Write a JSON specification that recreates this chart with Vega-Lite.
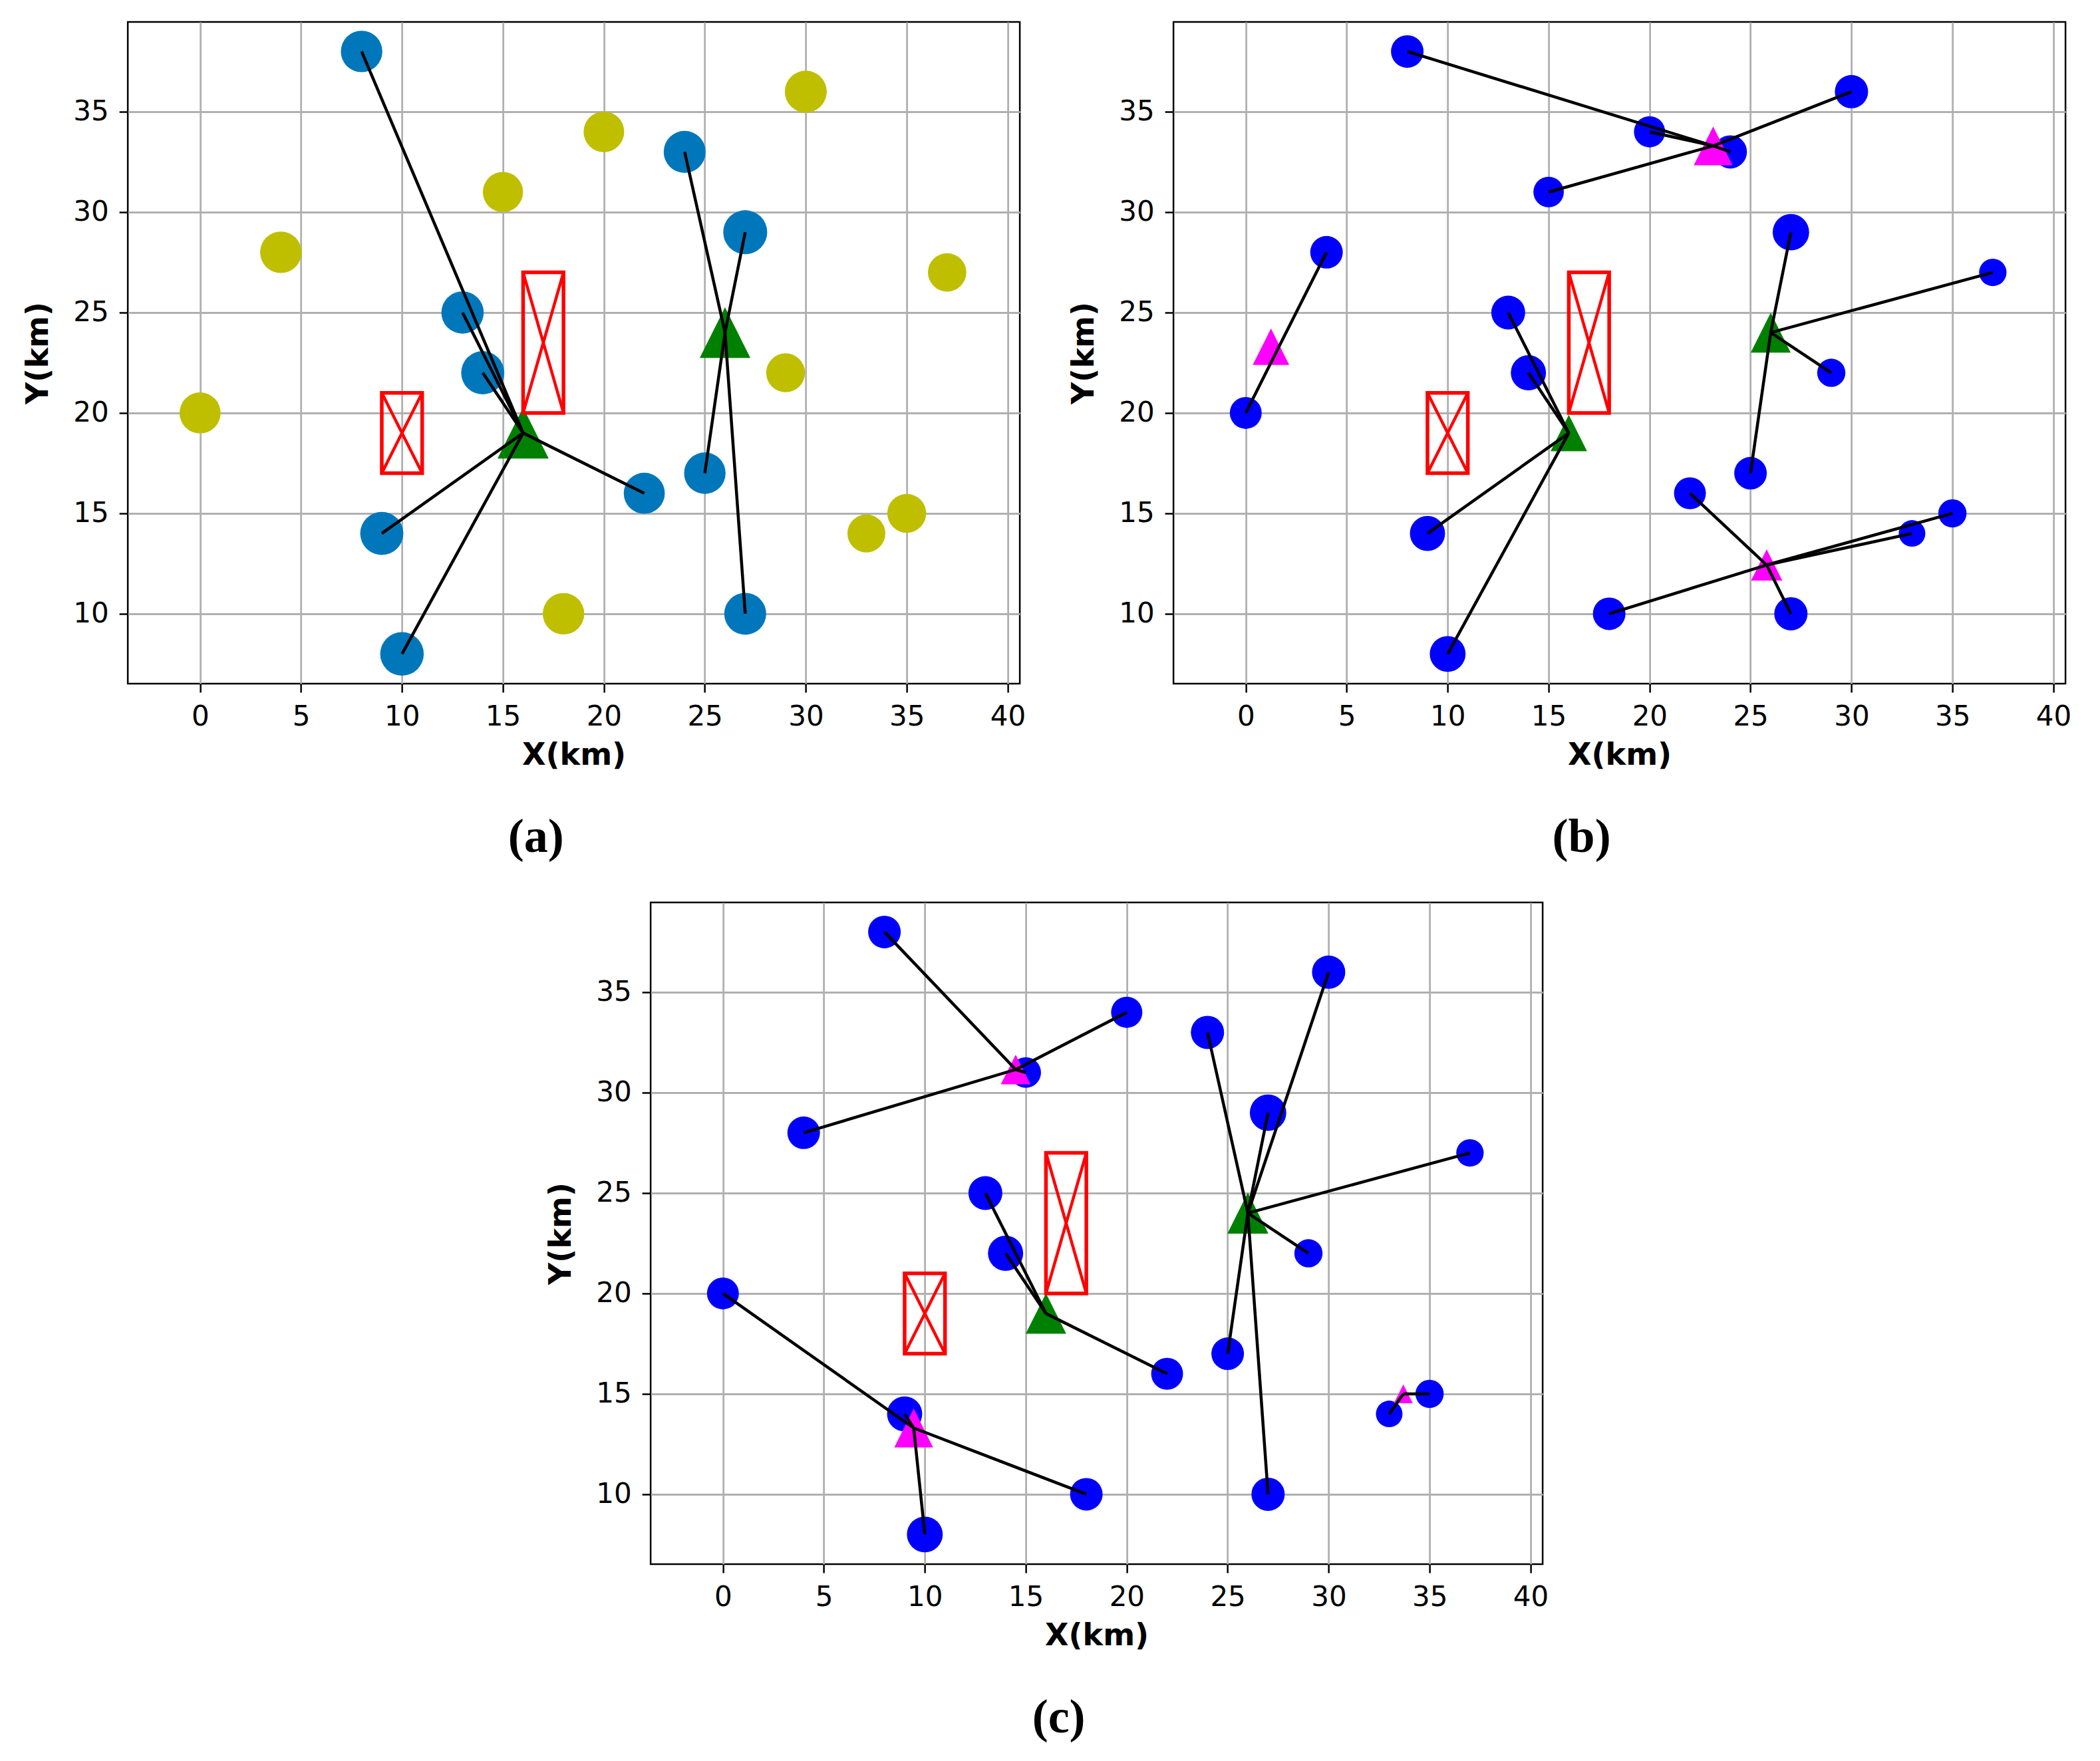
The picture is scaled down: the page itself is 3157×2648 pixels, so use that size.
{
  "$schema": "https://vega.github.io/schema/vega-lite/v6.json",
  "background": "white",
  "padding": {"top": 31, "left": 33, "right": 5, "bottom": 5},
  "datasets": {
    "customers": [
      {"x": 8, "y": 38, "demand": 24, "served": "yes"},
      {"x": 20, "y": 34, "demand": 22, "served": "no"},
      {"x": 24, "y": 33, "demand": 25, "served": "yes"},
      {"x": 30, "y": 36, "demand": 25, "served": "no"},
      {"x": 15, "y": 31, "demand": 21, "served": "no"},
      {"x": 4, "y": 28, "demand": 24, "served": "no"},
      {"x": 27, "y": 29, "demand": 30, "served": "yes"},
      {"x": 37, "y": 27, "demand": 17, "served": "no"},
      {"x": 13, "y": 25, "demand": 26, "served": "yes"},
      {"x": 14, "y": 22, "demand": 28, "served": "yes"},
      {"x": 29, "y": 22, "demand": 18, "served": "no"},
      {"x": 0, "y": 20, "demand": 23, "served": "no"},
      {"x": 25, "y": 17, "demand": 24, "served": "yes"},
      {"x": 22, "y": 16, "demand": 23, "served": "yes"},
      {"x": 9, "y": 14, "demand": 28, "served": "yes"},
      {"x": 35, "y": 15, "demand": 18, "served": "no"},
      {"x": 33, "y": 14, "demand": 16, "served": "no"},
      {"x": 18, "y": 10, "demand": 24, "served": "no"},
      {"x": 27, "y": 10, "demand": 25, "served": "yes"},
      {"x": 10, "y": 8, "demand": 29, "served": "yes"}
    ],
    "facilities": [
      {"panel": "a", "x": 16, "y": 19, "type": "existing", "cap": 59},
      {"panel": "a", "x": 26, "y": 24, "type": "existing", "cap": 58},
      {"panel": "b", "x": 16, "y": 19, "type": "existing", "cap": 30},
      {"panel": "b", "x": 26, "y": 24, "type": "existing", "cap": 36},
      {"panel": "b", "x": 23.15, "y": 33.3, "type": "new", "cap": 34},
      {"panel": "b", "x": 1.25, "y": 23.3, "type": "new", "cap": 30},
      {"panel": "b", "x": 25.8, "y": 12.43, "type": "new", "cap": 22},
      {"panel": "c", "x": 16, "y": 19, "type": "existing", "cap": 37},
      {"panel": "c", "x": 26, "y": 24, "type": "existing", "cap": 38},
      {"panel": "c", "x": 14.5, "y": 31.15, "type": "new", "cap": 20},
      {"panel": "c", "x": 9.45, "y": 13.3, "type": "new", "cap": 34},
      {"panel": "c", "x": 33.7, "y": 15, "type": "new", "cap": 8}
    ],
    "links": [
      {"panel": "a", "fx": 16, "fy": 19, "cx": 8, "cy": 38},
      {"panel": "a", "fx": 16, "fy": 19, "cx": 13, "cy": 25},
      {"panel": "a", "fx": 16, "fy": 19, "cx": 14, "cy": 22},
      {"panel": "a", "fx": 16, "fy": 19, "cx": 22, "cy": 16},
      {"panel": "a", "fx": 16, "fy": 19, "cx": 9, "cy": 14},
      {"panel": "a", "fx": 16, "fy": 19, "cx": 10, "cy": 8},
      {"panel": "a", "fx": 26, "fy": 24, "cx": 24, "cy": 33},
      {"panel": "a", "fx": 26, "fy": 24, "cx": 27, "cy": 29},
      {"panel": "a", "fx": 26, "fy": 24, "cx": 25, "cy": 17},
      {"panel": "a", "fx": 26, "fy": 24, "cx": 27, "cy": 10},
      {"panel": "b", "fx": 16, "fy": 19, "cx": 13, "cy": 25},
      {"panel": "b", "fx": 16, "fy": 19, "cx": 14, "cy": 22},
      {"panel": "b", "fx": 16, "fy": 19, "cx": 9, "cy": 14},
      {"panel": "b", "fx": 16, "fy": 19, "cx": 10, "cy": 8},
      {"panel": "b", "fx": 26, "fy": 24, "cx": 27, "cy": 29},
      {"panel": "b", "fx": 26, "fy": 24, "cx": 37, "cy": 27},
      {"panel": "b", "fx": 26, "fy": 24, "cx": 29, "cy": 22},
      {"panel": "b", "fx": 26, "fy": 24, "cx": 25, "cy": 17},
      {"panel": "b", "fx": 23.15, "fy": 33.3, "cx": 8, "cy": 38},
      {"panel": "b", "fx": 23.15, "fy": 33.3, "cx": 20, "cy": 34},
      {"panel": "b", "fx": 23.15, "fy": 33.3, "cx": 24, "cy": 33},
      {"panel": "b", "fx": 23.15, "fy": 33.3, "cx": 30, "cy": 36},
      {"panel": "b", "fx": 23.15, "fy": 33.3, "cx": 15, "cy": 31},
      {"panel": "b", "fx": 1.62, "fy": 23.25, "cx": 0, "cy": 20},
      {"panel": "b", "fx": 1.62, "fy": 23.25, "cx": 4, "cy": 28},
      {"panel": "b", "fx": 25.8, "fy": 12.43, "cx": 22, "cy": 16},
      {"panel": "b", "fx": 25.8, "fy": 12.43, "cx": 27, "cy": 10},
      {"panel": "b", "fx": 25.8, "fy": 12.43, "cx": 18, "cy": 10},
      {"panel": "b", "fx": 25.8, "fy": 12.43, "cx": 35, "cy": 15},
      {"panel": "b", "fx": 25.8, "fy": 12.43, "cx": 33, "cy": 14},
      {"panel": "c", "fx": 16, "fy": 19, "cx": 13, "cy": 25},
      {"panel": "c", "fx": 16, "fy": 19, "cx": 14, "cy": 22},
      {"panel": "c", "fx": 16, "fy": 19, "cx": 22, "cy": 16},
      {"panel": "c", "fx": 26, "fy": 24, "cx": 24, "cy": 33},
      {"panel": "c", "fx": 26, "fy": 24, "cx": 30, "cy": 36},
      {"panel": "c", "fx": 26, "fy": 24, "cx": 27, "cy": 29},
      {"panel": "c", "fx": 26, "fy": 24, "cx": 37, "cy": 27},
      {"panel": "c", "fx": 26, "fy": 24, "cx": 29, "cy": 22},
      {"panel": "c", "fx": 26, "fy": 24, "cx": 25, "cy": 17},
      {"panel": "c", "fx": 26, "fy": 24, "cx": 27, "cy": 10},
      {"panel": "c", "fx": 14.5, "fy": 31.15, "cx": 8, "cy": 38},
      {"panel": "c", "fx": 14.5, "fy": 31.15, "cx": 20, "cy": 34},
      {"panel": "c", "fx": 14.5, "fy": 31.15, "cx": 4, "cy": 28},
      {"panel": "c", "fx": 14.5, "fy": 31.15, "cx": 15, "cy": 31},
      {"panel": "c", "fx": 9.45, "fy": 13.3, "cx": 0, "cy": 20},
      {"panel": "c", "fx": 9.45, "fy": 13.3, "cx": 9, "cy": 14},
      {"panel": "c", "fx": 9.45, "fy": 13.3, "cx": 18, "cy": 10},
      {"panel": "c", "fx": 9.45, "fy": 13.3, "cx": 10, "cy": 8},
      {"panel": "c", "fx": 33.7, "fy": 15, "cx": 33, "cy": 14},
      {"panel": "c", "fx": 33.7, "fy": 15, "cx": 35, "cy": 15}
    ],
    "boxes": [
      {"x1": 9, "x2": 11, "y1": 17, "y2": 21},
      {"x1": 16, "x2": 18, "y1": 20, "y2": 27}
    ]
  },
  "vconcat": [
    {
      "hconcat": [
        {
          "width": 1341, "height": 995,
          "title": {"text": "(a)"},
          "layer": [
            {
              "data": {"name": "customers"},
              "mark": {"type": "point", "shape": "circle", "filled": true, "opacity": 1, "strokeWidth": 0},
              "encoding": {
                "x": {"field": "x", "type": "quantitative", "scale": {"domain": [-3.58, 40.6], "nice": false, "zero": false}, "axis": {"values": [0, 5, 10, 15, 20, 25, 30, 35, 40], "title": "X(km)"}},
                "y": {"field": "y", "type": "quantitative", "scale": {"domain": [6.52, 39.47], "nice": false, "zero": false}, "axis": {"values": [10, 15, 20, 25, 30, 35], "title": "Y(km)"}},
                "size": {"field": "demand", "type": "quantitative", "scale": {"domain": [16, 30], "range": [3250, 4370], "zero": false}, "legend": null},
                "color": {"field": "served", "type": "nominal", "scale": {"domain": ["yes", "no"], "range": ["#0077bb", "#bfbf00"]}, "legend": null}
              }
            },
            {
              "data": {"name": "facilities"},
              "transform": [{"filter": "datum.panel === 'a'"}],
              "mark": {"type": "point", "shape": "M0,-1L-1,1L1,1Z", "filled": true, "opacity": 1, "strokeWidth": 0},
              "encoding": {
                "x": {"field": "x", "type": "quantitative"},
                "y": {"field": "y", "type": "quantitative"},
                "size": {"field": "cap", "type": "quantitative", "scale": {"domain": [0, 100], "range": [0, 10000]}, "legend": null},
                "color": {"field": "type", "type": "nominal", "scale": {"domain": ["existing", "new"], "range": ["#008000", "#ff00ff"]}, "legend": null}
              }
            },
            {
              "data": {"name": "boxes"},
              "mark": {"type": "rect", "filled": false, "color": "#ff0000", "strokeWidth": 5.5},
              "encoding": {
                "x": {"field": "x1", "type": "quantitative"}, "x2": {"field": "x2"},
                "y": {"field": "y1", "type": "quantitative"}, "y2": {"field": "y2"}
              }
            },
            {
              "data": {"name": "boxes"},
              "mark": {"type": "rule", "color": "#ff0000", "strokeWidth": 4.5},
              "encoding": {
                "x": {"field": "x1", "type": "quantitative"}, "x2": {"field": "x2"},
                "y": {"field": "y1", "type": "quantitative"}, "y2": {"field": "y2"}
              }
            },
            {
              "data": {"name": "boxes"},
              "mark": {"type": "rule", "color": "#ff0000", "strokeWidth": 4.5},
              "encoding": {
                "x": {"field": "x1", "type": "quantitative"}, "x2": {"field": "x2"},
                "y": {"field": "y2", "type": "quantitative"}, "y2": {"field": "y1"}
              }
            },
            {
              "data": {"name": "links"},
              "transform": [{"filter": "datum.panel === 'a'"}],
              "mark": {"type": "rule", "color": "black", "strokeWidth": 4.5},
              "encoding": {
                "x": {"field": "fx", "type": "quantitative"}, "x2": {"field": "cx"},
                "y": {"field": "fy", "type": "quantitative"}, "y2": {"field": "cy"}
              }
            }
          ],
          "resolve": {"scale": {"size": "independent", "color": "independent"}}
        },
        {
          "width": 1341, "height": 995,
          "title": {"text": "(b)"},
          "layer": [
            {
              "data": {"name": "customers"},
              "mark": {"type": "point", "shape": "circle", "filled": true, "opacity": 1, "strokeWidth": 0, "color": "#0000ff"},
              "encoding": {
                "x": {"field": "x", "type": "quantitative", "scale": {"domain": [-3.58, 40.6], "nice": false, "zero": false}, "axis": {"values": [0, 5, 10, 15, 20, 25, 30, 35, 40], "title": "X(km)"}},
                "y": {"field": "y", "type": "quantitative", "scale": {"domain": [6.52, 39.47], "nice": false, "zero": false}, "axis": {"values": [10, 15, 20, 25, 30, 35], "title": "Y(km)"}},
                "size": {"field": "demand", "type": "quantitative", "scale": {"domain": [0, 100], "range": [0, 10000]}, "legend": null}
              }
            },
            {
              "data": {"name": "facilities"},
              "transform": [{"filter": "datum.panel === 'b'"}],
              "mark": {"type": "point", "shape": "M0,-1L-1,1L1,1Z", "filled": true, "opacity": 1, "strokeWidth": 0},
              "encoding": {
                "x": {"field": "x", "type": "quantitative"},
                "y": {"field": "y", "type": "quantitative"},
                "size": {"field": "cap", "type": "quantitative", "scale": {"domain": [0, 100], "range": [0, 10000]}, "legend": null},
                "color": {"field": "type", "type": "nominal", "scale": {"domain": ["existing", "new"], "range": ["#008000", "#ff00ff"]}, "legend": null}
              }
            },
            {
              "data": {"name": "boxes"},
              "mark": {"type": "rect", "filled": false, "color": "#ff0000", "strokeWidth": 5.5},
              "encoding": {
                "x": {"field": "x1", "type": "quantitative"}, "x2": {"field": "x2"},
                "y": {"field": "y1", "type": "quantitative"}, "y2": {"field": "y2"}
              }
            },
            {
              "data": {"name": "boxes"},
              "mark": {"type": "rule", "color": "#ff0000", "strokeWidth": 4.5},
              "encoding": {
                "x": {"field": "x1", "type": "quantitative"}, "x2": {"field": "x2"},
                "y": {"field": "y1", "type": "quantitative"}, "y2": {"field": "y2"}
              }
            },
            {
              "data": {"name": "boxes"},
              "mark": {"type": "rule", "color": "#ff0000", "strokeWidth": 4.5},
              "encoding": {
                "x": {"field": "x1", "type": "quantitative"}, "x2": {"field": "x2"},
                "y": {"field": "y2", "type": "quantitative"}, "y2": {"field": "y1"}
              }
            },
            {
              "data": {"name": "links"},
              "transform": [{"filter": "datum.panel === 'b'"}],
              "mark": {"type": "rule", "color": "black", "strokeWidth": 4.5},
              "encoding": {
                "x": {"field": "fx", "type": "quantitative"}, "x2": {"field": "cx"},
                "y": {"field": "fy", "type": "quantitative"}, "y2": {"field": "cy"}
              }
            }
          ],
          "resolve": {"scale": {"size": "independent", "color": "independent"}}
        }
      ],
      "spacing": 62
    },
    {
      "width": 1341, "height": 995,
      "title": {"text": "(c)"},
      "layer": [
        {
          "data": {"name": "customers"},
          "mark": {"type": "point", "shape": "circle", "filled": true, "opacity": 1, "strokeWidth": 0, "color": "#0000ff"},
          "encoding": {
            "x": {"field": "x", "type": "quantitative", "scale": {"domain": [-3.58, 40.6], "nice": false, "zero": false}, "axis": {"values": [0, 5, 10, 15, 20, 25, 30, 35, 40], "title": "X(km)"}},
            "y": {"field": "y", "type": "quantitative", "scale": {"domain": [6.52, 39.47], "nice": false, "zero": false}, "axis": {"values": [10, 15, 20, 25, 30, 35], "title": "Y(km)"}},
            "size": {"field": "demand", "type": "quantitative", "scale": {"domain": [0, 100], "range": [0, 10000]}, "legend": null}
          }
        },
        {
          "data": {"name": "facilities"},
          "transform": [{"filter": "datum.panel === 'c'"}],
          "mark": {"type": "point", "shape": "M0,-1L-1,1L1,1Z", "filled": true, "opacity": 1, "strokeWidth": 0},
          "encoding": {
            "x": {"field": "x", "type": "quantitative"},
            "y": {"field": "y", "type": "quantitative"},
            "size": {"field": "cap", "type": "quantitative", "scale": {"domain": [0, 100], "range": [0, 10000]}, "legend": null},
            "color": {"field": "type", "type": "nominal", "scale": {"domain": ["existing", "new"], "range": ["#008000", "#ff00ff"]}, "legend": null}
          }
        },
        {
          "data": {"name": "boxes"},
          "mark": {"type": "rect", "filled": false, "color": "#ff0000", "strokeWidth": 5.5},
          "encoding": {
            "x": {"field": "x1", "type": "quantitative"}, "x2": {"field": "x2"},
            "y": {"field": "y1", "type": "quantitative"}, "y2": {"field": "y2"}
          }
        },
        {
          "data": {"name": "boxes"},
          "mark": {"type": "rule", "color": "#ff0000", "strokeWidth": 4.5},
          "encoding": {
            "x": {"field": "x1", "type": "quantitative"}, "x2": {"field": "x2"},
            "y": {"field": "y1", "type": "quantitative"}, "y2": {"field": "y2"}
          }
        },
        {
          "data": {"name": "boxes"},
          "mark": {"type": "rule", "color": "#ff0000", "strokeWidth": 4.5},
          "encoding": {
            "x": {"field": "x1", "type": "quantitative"}, "x2": {"field": "x2"},
            "y": {"field": "y2", "type": "quantitative"}, "y2": {"field": "y1"}
          }
        },
        {
          "data": {"name": "links"},
          "transform": [{"filter": "datum.panel === 'c'"}],
          "mark": {"type": "rule", "color": "black", "strokeWidth": 4.5},
          "encoding": {
            "x": {"field": "fx", "type": "quantitative"}, "x2": {"field": "cx"},
            "y": {"field": "fy", "type": "quantitative"}, "y2": {"field": "cy"}
          }
        }
      ],
      "resolve": {"scale": {"size": "independent", "color": "independent"}}
    }
  ],
  "spacing": 58,
  "center": true,
  "config": {
    "view": {"stroke": "black", "strokeWidth": 2.5},
    "axis": {
      "labelFont": "DejaVu Sans", "labelFontSize": 42, "labelColor": "black",
      "titleFont": "DejaVu Sans", "titleFontSize": 46, "titleFontWeight": "bold", "titleColor": "black",
      "grid": true, "gridColor": "#b0b0b0", "gridWidth": 2.8,
      "domain": false, "ticks": true, "tickColor": "black", "tickWidth": 2.5, "tickSize": 13,
      "labelPadding": 16
    },
    "axisX": {"titlePadding": 15},
    "axisY": {"titlePadding": 28},
    "title": {"font": "Liberation Serif", "fontSize": 72, "fontWeight": "bold", "color": "black", "orient": "bottom", "offset": 66, "dx": -57}
  }
}
